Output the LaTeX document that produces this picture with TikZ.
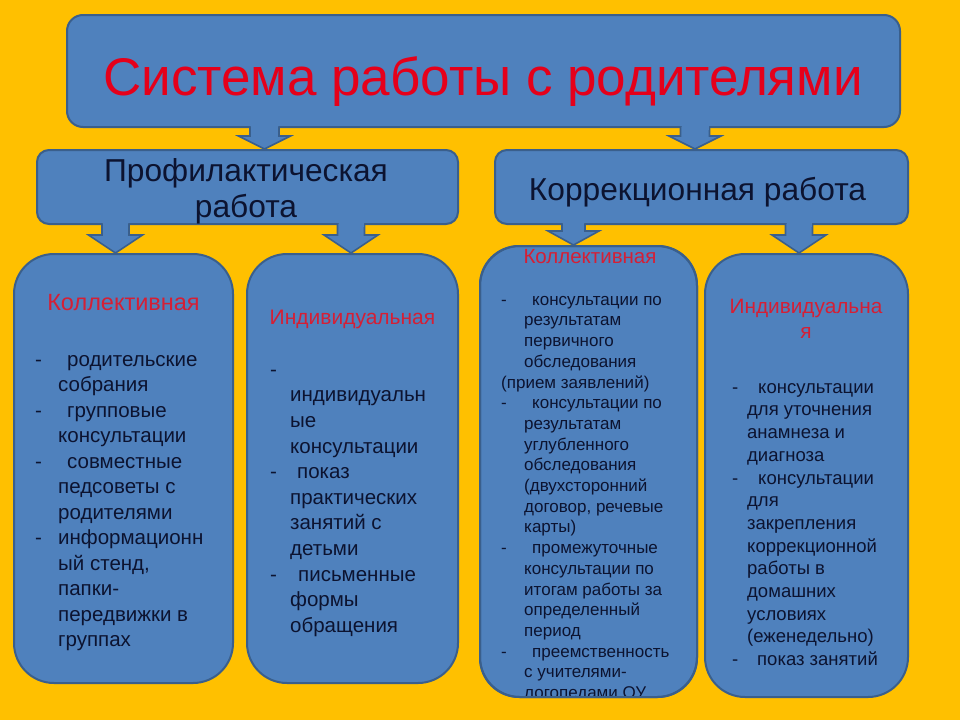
\documentclass[tikz,border=0pt]{standalone}
\usepackage{fontspec}
\setmainfont{Liberation Sans}
\usetikzlibrary{calc}
\definecolor{bg}{HTML}{FFC000}
\definecolor{boxfill}{HTML}{4F81BD}
\definecolor{boxline}{HTML}{3A5F8C}
\definecolor{titlered}{HTML}{E5001A}
\definecolor{labred}{HTML}{D51F35}
\definecolor{txt}{HTML}{0C1330}
\newlength\dashw
\newcommand\dsh[1]{\makebox[\dashw][l]{-}#1}
\newcommand\ind[1]{\hspace*{\dashw}#1}
% block arrow: x, from node, to node, shaft half, head half, head length
\newcommand\blockarr[6]{%
  \path (#1,0 |- #2.south) coordinate (s) (#1,0 |- #3.north) coordinate (e);
  \draw[arrowshape]
    ([xshift=-#4pt,yshift=1.5pt]s) -- ([xshift=-#4pt,yshift=#6pt]e)
    -- ([xshift=-#5pt,yshift=#6pt]e) -- (e)
    -- ([xshift=#5pt,yshift=#6pt]e) -- ([xshift=#4pt,yshift=#6pt]e)
    -- ([xshift=#4pt,yshift=1.5pt]s);
  \fill[boxfill] ([xshift=-#4pt+1pt,yshift=3pt]s) rectangle ([xshift=#4pt-1pt,yshift=-2pt]s);
}
\begin{document}
\begin{tikzpicture}[x=1pt,y=-1pt,
  panel/.style={draw=boxline, fill=boxfill, line width=2pt, inner sep=0pt, rectangle},
  arrowshape/.style={draw=boxline, fill=boxfill, line width=1.6pt, line join=miter},
  head/.style={text=txt, inner sep=0pt, font=\fontsize{31.7}{36}\selectfont, align=center},
  lab/.style={text=labred, inner sep=0pt, anchor=base},
  listtext/.style={text=txt, inner sep=0pt, anchor=north west, align=left}]
\fill[bg] (0,0) rectangle (960,720);
\useasboundingbox (0,0) rectangle (960,720);

% boxes
\node[panel, rounded corners=16pt, minimum width=833pt, minimum height=112pt] (title) at (483.5,71) {};
\node[panel, rounded corners=12pt, minimum width=421pt, minimum height=74pt] (prof) at (247.5,187) {};
\node[panel, rounded corners=12pt, minimum width=413pt, minimum height=74pt] (korr) at (701.5,187) {};
\node[panel, rounded corners=40pt, minimum width=219pt, minimum height=429pt] (b1) at (123.5,468.5) {};
\node[panel, rounded corners=40pt, minimum width=211pt, minimum height=429pt] (b2) at (352.5,468.5) {};
\node[panel, rounded corners=40pt, minimum width=217pt, minimum height=451pt] (b3) at (588.5,471.5) {};
\node[panel, rounded corners=40pt, minimum width=203pt, minimum height=443pt] (b4) at (806.5,475.5) {};

% arrows
\blockarr{264.5}{title}{prof}{14.5}{26}{13}
\blockarr{695}{title}{korr}{14.5}{26}{13}
\blockarr{115.5}{prof}{b1}{13.5}{27}{18}
\blockarr{351}{prof}{b2}{13.5}{27}{18}
\blockarr{799}{korr}{b4}{13.5}{27}{18}

% title and headers
\node[text=titlered, inner sep=0pt, anchor=base, font=\fontsize{53}{60}\selectfont] (ttext) at (483,95) {Система работы с родителями};
\node[head, anchor=north] (ptext) at (246,{181-0.7*36}) {\strut Профилактическая\\работа};
\node[head, anchor=base] (ktext) at (697.5,200) {Коррекционная работа};

% box 1
\node[lab, font=\fontsize{23.5}{25}\selectfont] (l1) at (123.5,310) {Коллективная};
\node[listtext, font=\fontsize{20.5}{25.5}\selectfont\setlength\dashw{23pt}] (t1) at (35,{366-0.7*25.5}) {%
\strut\dsh{\hspace{9pt}родительские}\\
\ind{собрания}\\
\dsh{\hspace{9pt}групповые}\\
\ind{консультации}\\
\dsh{\hspace{9pt}совместные}\\
\ind{педсоветы с}\\
\ind{родителями}\\
\dsh{информационн}\\
\ind{ый стенд,}\\
\ind{папки-}\\
\ind{передвижки в}\\
\ind{группах}};

% box 2
\node[lab, font=\fontsize{21}{25}\selectfont] (l2) at (352.5,324) {Индивидуальная};
\node[listtext, font=\fontsize{20.5}{25.6}\selectfont\setlength\dashw{20pt}] (t2) at (270,{376-0.7*25.6}) {%
\strut -\\
\ind{индивидуальн}\\
\ind{ые}\\
\ind{консультации}\\
\dsh{\hspace{7pt}показ}\\
\ind{практических}\\
\ind{занятий с}\\
\ind{детьми}\\
\dsh{\hspace{8pt}письменные}\\
\ind{формы}\\
\ind{обращения}};

% box 3
\node[lab, font=\fontsize{20.5}{21}\selectfont] (l3) at (590,263) {Коллективная};
\begin{scope}
\clip[rounded corners=39pt] ([shift={(1,1)}]b3.north west) rectangle ([shift={(-1,-1)}]b3.south east);
\node[listtext, font=\fontsize{17}{20.7}\selectfont\setlength\dashw{23pt}] (t3) at (501,{305-0.7*20.7}) {%
\strut\dsh{\hspace{8pt}консультации по}\\
\ind{результатам}\\
\ind{первичного}\\
\ind{обследования}\\
(прием заявлений)\\
\dsh{\hspace{8pt}консультации по}\\
\ind{результатам}\\
\ind{углубленного}\\
\ind{обследования}\\
\ind{(двухсторонний}\\
\ind{договор, речевые}\\
\ind{карты)}\\
\dsh{\hspace{8pt}промежуточные}\\
\ind{консультации по}\\
\ind{итогам работы за}\\
\ind{определенный}\\
\ind{период}\\
\dsh{\hspace{8pt}преемственность}\\
\ind{с учителями-}\\
\ind{логопедами ОУ}};
\end{scope}
\draw[boxline, line width=2pt, rounded corners=39pt] ([shift={(1,1)}]b3.north west) rectangle ([shift={(-1,-1)}]b3.south east);
\blockarr{573.5}{korr}{b3}{11.5}{25.5}{14}

% box 4
\node[text=labred, inner sep=0pt, anchor=north, align=center, font=\fontsize{20.8}{25}\selectfont] (l4) at (806,{313-0.7*25}) {\strut Индивидуальна\\я};
\node[listtext, font=\fontsize{18.5}{22.7}\selectfont\setlength\dashw{15pt}] (t4) at (732,{393-0.7*22.7}) {%
\strut\dsh{\hspace{11pt}консультации}\\
\ind{для уточнения}\\
\ind{анамнеза и}\\
\ind{диагноза}\\
\dsh{\hspace{11pt}консультации}\\
\ind{для}\\
\ind{закрепления}\\
\ind{коррекционной}\\
\ind{работы в}\\
\ind{домашних}\\
\ind{условиях}\\
\ind{(еженедельно)}\\
\dsh{\hspace{10pt}показ занятий}};
\end{tikzpicture}
\end{document}
